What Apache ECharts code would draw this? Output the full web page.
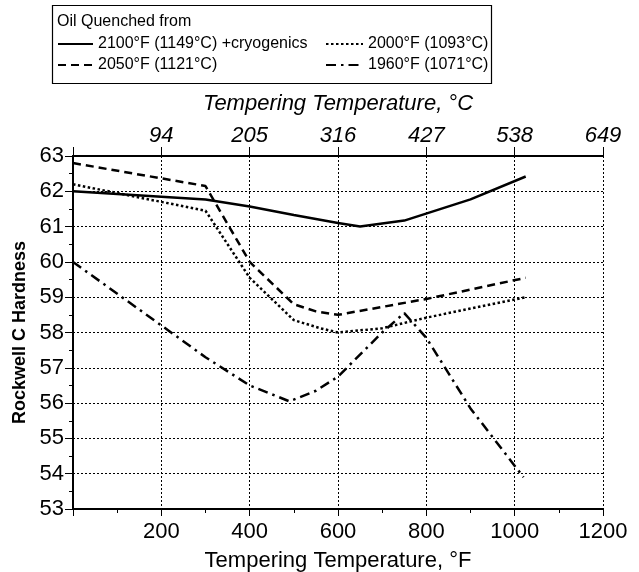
<!DOCTYPE html>
<html>
<head>
<meta charset="utf-8">
<script src="https://cdn.jsdelivr.net/npm/echarts@6/dist/echarts.min.js"></script>
<style>
  html, body { margin: 0; padding: 0; background: #fff; }
  #chart { width: 639px; height: 572px; }
</style>
</head>
<body>
<div id="chart"></div>
<script>
// tempering temperature (°F) and hardness (HRC) per quench condition
const tempCryo = [0, 300, 400, 500, 600, 650, 750, 900, 1025];
const hrcCryo = [62.0, 61.77, 61.57, 61.33, 61.1, 61.0, 61.17, 61.77, 62.42];

const temp2050 = [0, 300, 400, 500, 550, 600, 800, 1025];
const hrc2050 = [62.8, 62.15, 60.0, 58.8, 58.6, 58.5, 58.95, 59.55];

const temp2000 = [0, 300, 400, 500, 560, 600, 700, 800, 1025];
const hrc2000 = [62.2, 61.45, 59.55, 58.35, 58.12, 58.0, 58.12, 58.42, 59.0];

const temp1960 = [0, 200, 300, 400, 490, 550, 600, 700, 750, 800, 900, 1020];
const hrc1960 = [60.0, 58.2, 57.3, 56.5, 56.05, 56.35, 56.75, 58.0, 58.55, 57.85, 55.85, 53.9];

const seriesNames = [
    '2100°F (1149°C) +cryogenics',
    '2050°F (1121°C)',
    '2000°F (1093°C)',
    '1960°F (1071°C)'
];

// top axis: °C labels at the °F major ticks
const fahrenheitTicks = [200, 400, 600, 800, 1000, 1200];
const celsiusLabels = ['94', '205', '316', '427', '538', '649'];

const FONT = 'Liberation Sans';

function pairs(xs, ys) {
    return xs.map((x, i) => [x, ys[i]]);
}

const chart = echarts.init(document.getElementById('chart'));

// legend entries: plain line samples, no marker dot
const legendBase = {
    orient: 'vertical',
    top: 36,
    padding: 0,
    itemHeight: 14,
    itemGap: 5,
    itemStyle: { color: 'rgba(0,0,0,0)', borderWidth: 0 },
    textStyle: { fontFamily: FONT, fontSize: 16, color: '#000' }
};

chart.setOption({
    animation: false,
    textStyle: { fontFamily: FONT, color: '#000' },
    grid: { left: 73, right: 36, top: 156, bottom: 63, outerBoundsMode: 'none' },
    graphic: [
        {
            type: 'rect',
            shape: { x: 52.5, y: 5.5, width: 439, height: 78 },
            style: { fill: '#fff', stroke: '#000', lineWidth: 1.2 },
            z: 0
        },
        {
            type: 'text',
            left: 57,
            top: 14,
            style: { text: 'Oil Quenched from', font: '16px "Liberation Sans"', fill: '#000' },
            z: 1
        }
    ],
    legend: [
        Object.assign({}, legendBase, {
            left: 57,
            itemWidth: 35,
            data: [seriesNames[0], seriesNames[1]]
        }),
        Object.assign({}, legendBase, {
            left: 325,
            itemWidth: 37,
            data: [seriesNames[2], seriesNames[3]]
        })
    ],
    xAxis: [
        {
            type: 'value',
            position: 'bottom',
            min: 0,
            max: 1200,
            interval: 200,
            name: 'Tempering Temperature, °F',
            nameLocation: 'middle',
            nameGap: 41,
            nameTextStyle: { fontFamily: FONT, fontSize: 22, color: '#000' },
            axisLine: { show: true, lineStyle: { color: '#000', width: 2 } },
            axisTick: { show: true, length: 7, lineStyle: { color: '#000', width: 1 } },
            minorTick: { show: true, splitNumber: 2, length: 4, lineStyle: { color: '#000', width: 1 } },
            axisLabel: {
                fontFamily: FONT, fontSize: 22, color: '#000', margin: 12,
                formatter: v => (v === 0 ? '' : String(v))
            },
            splitLine: { show: true, lineStyle: { color: '#000', width: 1, type: [2, 2] } }
        },
        {
            type: 'value',
            position: 'top',
            min: 0,
            max: 1200,
            interval: 200,
            name: 'Tempering Temperature, °C',
            nameLocation: 'middle',
            nameGap: 41,
            nameTextStyle: { fontFamily: FONT, fontSize: 22, fontStyle: 'italic', color: '#000' },
            axisLine: { show: true, lineStyle: { color: '#000', width: 2 } },
            axisTick: { show: true, length: 9, lineStyle: { color: '#000', width: 1 } },
            axisLabel: {
                fontFamily: FONT, fontSize: 22, fontStyle: 'italic', color: '#000', margin: 9,
                formatter: v => {
                    const i = fahrenheitTicks.indexOf(v);
                    return i >= 0 ? celsiusLabels[i] : '';
                }
            },
            splitLine: { show: false }
        }
    ],
    yAxis: [
        {
            type: 'value',
            position: 'left',
            min: 53,
            max: 63,
            interval: 1,
            name: 'Rockwell C Hardness',
            nameLocation: 'middle',
            nameGap: 38,
            nameTextStyle: { fontFamily: FONT, fontSize: 18, fontWeight: 'bold', color: '#000' },
            axisLine: { show: true, lineStyle: { color: '#000', width: 2 } },
            axisTick: { show: true, length: 8, lineStyle: { color: '#000', width: 1 } },
            minorTick: { show: true, splitNumber: 2, length: 4, lineStyle: { color: '#000', width: 1 } },
            axisLabel: { fontFamily: FONT, fontSize: 22, color: '#000', margin: 9 },
            splitLine: { show: true, lineStyle: { color: '#000', width: 1, type: [2, 2] } }
        },
        {
            type: 'value',
            position: 'right',
            min: 53,
            max: 63,
            interval: 1,
            axisLine: { show: true, lineStyle: { color: '#000', width: 2 } },
            axisTick: { show: false },
            axisLabel: { show: false },
            splitLine: { show: false }
        }
    ],
    series: [
        {
            name: seriesNames[0],
            type: 'line',
            data: pairs(tempCryo, hrcCryo),
            symbol: 'none',
            lineStyle: { color: '#000', width: 2.5, type: 'solid' },
            itemStyle: { color: '#000' }
        },
        {
            name: seriesNames[1],
            type: 'line',
            data: pairs(temp2050, hrc2050),
            symbol: 'none',
            lineStyle: { color: '#000', width: 2.5, type: [8, 5] },
            itemStyle: { color: '#000' }
        },
        {
            name: seriesNames[2],
            type: 'line',
            data: pairs(temp2000, hrc2000),
            symbol: 'none',
            lineStyle: { color: '#000', width: 2.5, type: [2.5, 2.5] },
            itemStyle: { color: '#000' }
        },
        {
            name: seriesNames[3],
            type: 'line',
            data: pairs(temp1960, hrc1960),
            symbol: 'none',
            lineStyle: { color: '#000', width: 2.5, type: [10, 5, 2.5, 5] },
            itemStyle: { color: '#000' }
        }
    ]
});
</script>
</body>
</html>
